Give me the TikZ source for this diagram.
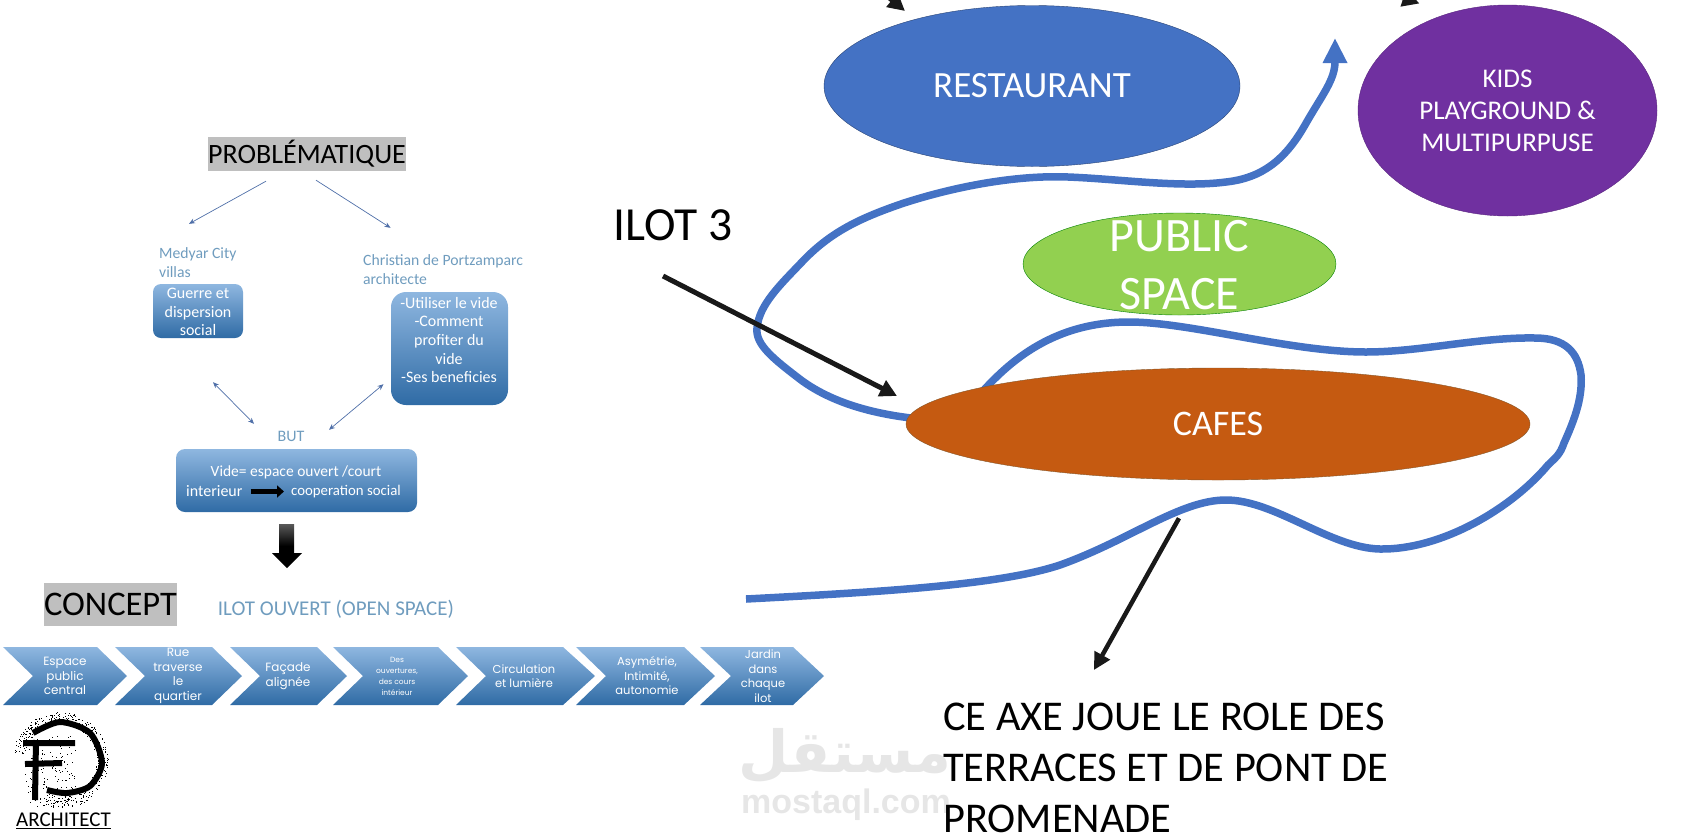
\documentclass[tikz,border=0pt]{standalone}
\usepackage{fontspec}
\setmainfont{Carlito}
\newfontfamily\chevfont{Poppins}
\newfontfamily\markfont{Liberation Sans}
\newfontfamily\arabicfont[Script=Arabic]{DejaVu Sans}
\TeXXeTstate=1
\usetikzlibrary{shapes.geometric,arrows.meta}

\definecolor{boxtop}{HTML}{8FB7E0}
\definecolor{boxbottom}{HTML}{2F6BA5}
\definecolor{softblue}{HTML}{6F9CBE}
\definecolor{thinblue}{HTML}{4F6FA8}
\definecolor{walkblue}{HTML}{4472C4}
\definecolor{labelgray}{HTML}{BFBFBF}
\definecolor{markgray}{HTML}{E6E6E6}
\definecolor{kidspurple}{HTML}{7030A0}
\definecolor{publicgreen}{HTML}{92D050}
\definecolor{cafeorange}{HTML}{C55A11}

\tikzset{
  px/.style={x=1pt,y=-1pt},
  graybox/.style={fill=labelgray,inner sep=0pt,text=black},
  softtext/.style={text=softblue,align=left,inner sep=0pt,anchor=north west,font=\fontsize{15.7}{19}\selectfont},
  bluebox/.style={top color=boxtop,bottom color=boxbottom,text=white,align=center,inner sep=0pt,font=\fontsize{16}{18.6}\selectfont},
  thinarrow/.style={thinblue,line width=0.7pt,-{Stealth[length=6pt,width=5pt]}},
  bothways/.style={thinblue,line width=0.7pt,{Stealth[length=6pt,width=5pt]}-{Stealth[length=6pt,width=5pt]}},
  bigarrow/.style={black!90,-{Triangle[length=17pt,width=17pt]}},
  walk/.style={walkblue,line width=7.5pt},
  place/.style={ellipse,text=white,align=center,inner sep=0pt},
}

\begin{document}
\begin{tikzpicture}[px]
  \useasboundingbox (0,0) rectangle (1693,836);

  % watermark
  \node[text=markgray,inner sep=0pt,font=\arabicfont\bfseries\fontsize{58}{58}\selectfont] (markar) at (845,756) {\beginR مستقل\endR};
  \node[text=markgray,inner sep=0pt,font=\markfont\bfseries\fontsize{34}{34}\selectfont] (markurl) at (846,805) {mostaql.com};

  % left column
  \node[graybox,minimum width=198pt,minimum height=34pt,font=\fontsize{28}{28}\selectfont] (problem) at (307,154) {PROBLÉMATIQUE};

  \node[softtext] (medyar) at (159,247) {Medyar City\\villas};
  \node[softtext] (christian) at (363,254) {Christian de Portzamparc\\architecte};

  \node[bluebox,rounded corners=8pt,minimum width=90pt,minimum height=54pt] (guerre) at (198,311) {};
  \node[text=white,align=center,inner sep=0pt,font=\fontsize{16}{18.6}\selectfont] (guerretext) at (198,312) {Guerre et\\dispersion\\social};
  \node[bluebox,rounded corners=15pt,minimum width=117pt,minimum height=113pt] (utiliser) at (449.5,348.5) {};
  \node[text=white,align=center,inner sep=0pt,font=\fontsize{16}{18.6}\selectfont] (utilisertext) at (449,340) {-Utiliser le vide\\-Comment\\profiter du\\vide\\-Ses beneficies};

  \node[text=softblue,inner sep=0pt,font=\fontsize{16}{16}\selectfont] (butlabel) at (291,436) {BUT};

  \node[bluebox,rounded corners=9pt,minimum width=241pt,minimum height=63pt] (vide) at (296.5,480.5) {};
  \node[text=white,inner sep=0pt,font=\fontsize{15.5}{16}\selectfont] (videtop) at (296,472) {Vide= espace ouvert /court};
  \node[text=white,inner sep=0pt,anchor=west,font=\fontsize{16}{16}\selectfont] (interieur) at (186,491.5) {interieur};
  \node[text=white,inner sep=0pt,anchor=west,font=\fontsize{14.8}{16}\selectfont] (cooperation) at (291,491.5) {cooperation social};

  \draw[black,line width=5pt,-{Triangle[length=7pt,width=12pt]},shorten <=8pt,shorten >=7pt] (interieur.east) -- (cooperation.west);

  \draw[thinarrow] ([shift={(-41,10)}]problem.south) -- ([shift={(-9,-60)}]guerre.north);
  \draw[thinarrow] ([shift={(9,9)}]problem.south) -- ([shift={(-59,-64)}]utiliser.north);
  \draw[bothways] ([shift={(15,44)}]guerre.south) -- ([shift={(-42.5,-25)}]vide.north);
  \draw[bothways] ([shift={(-66,-21)}]utiliser.south) -- ([shift={(32.5,-19)}]vide.north);

  % block arrow
  \shade[top color=black!65,bottom color=black,middle color=black] (279,524) -- (294,524) -- (294,553) -- (302,553) -- (287,568) -- (272,553) -- (279,553) -- cycle;

  \node[graybox,minimum width=133pt,minimum height=43pt,font=\fontsize{34.5}{34.5}\selectfont] (concept) at (110.5,604.5) {CONCEPT};
  \node[text=softblue,inner sep=0pt,font=\fontsize{21}{21}\selectfont] (ouvert) at (336,609) {ILOT OUVERT (OPEN SPACE)};

  % chevrons
  \foreach \xa/\xn/\xb/\xt/\xc/\fs/\ls/\chevname/\chevtext in {
      3/33/97/127/65/12/14.5/espace/{Espace\\public\\central},
      115/145/212/242/178/12/14.5/rue/{Rue\\traverse\\le\\quartier},
      230/260/317/347/288/12/14.5/facade/{Façade\\alignée},
      333/363/438/468/397/7.5/11/ouvertures/{Des\\ouvertures,\\des cours\\intérieur},
      456/486/563/595/524/11.5/14.5/circulation/{Circulation\\et lumière},
      576/606/684/715/647/11.5/14.5/asymetrie/{Asymétrie,\\Intimité,\\autonomie},
      700/731/793/824/763/11.5/14.5/jardin/{Jardin\\dans\\chaque\\ilot}}
  {
    \shade[top color=boxtop,bottom color=boxbottom] (\xa,647) -- (\xb,647) -- (\xt,676) -- (\xb,705) -- (\xa,705) -- (\xn,676) -- cycle;
    \node[text=white,align=center,inner sep=0pt,font=\chevfont\fontsize{\fs}{\ls}\selectfont] (\chevname) at (\xc,676) {\chevtext};
  }

  % logo
  \pgfmathsetseed{7}
  \foreach \i in {1,...,420}
  {
    \pgfmathsetmacro\ang{rnd*280-170}
    \pgfmathsetmacro\rad{36+rnd*12}
    \fill[black] ({60+\rad*cos(\ang)},{760+\rad*sin(\ang)}) rectangle ++(0.9,0.9);
  }
  \foreach \i in {1,...,160}
    \fill[black] ({25+rnd*50},{736+rnd*70}) rectangle ++(0.9,0.9);
  \draw[black,line width=6pt] plot[smooth] coordinates {(33,733) (60,722) (90,733) (102,763) (90,786) (67,793) (47,790)};
  \draw[black,line width=6pt] (23,743) -- (75,743) (36,740) -- (35,800) (25,764) -- (62,763);
  \node[inner sep=0pt,font=\fontsize{21}{21}\selectfont] (architect) at (63.5,820) {ARCHITECT};
  \draw[black,line width=0.9pt] (16,828) -- (111,828);

  % walking axis
  \coordinate (walkstart) at (920,419);
  \coordinate (walkend) at (1335,38);
  \coordinate (loopstart) at (975,400);
  \coordinate (loopend) at (746,599);
  \draw[walk,-{Triangle[length=25pt,width=23pt]}] (walkstart) .. controls (880,415) and (835,405) .. (801,380)
    .. controls (775,360) and (755,345) .. (757,328)
    .. controls (759,305) and (780,285) .. (801,263)
    .. controls (830,232) and (860,218) .. (904,203)
    .. controls (960,185) and (1020,175) .. (1068,177)
    .. controls (1120,179) and (1180,188) .. (1226,182)
    .. controls (1262,178) and (1285,160) .. (1305,125)
    .. controls (1322,95) and (1335,80) .. (walkend);
  \draw[walk] (loopstart) .. controls (1005,365) and (1050,322) .. (1129,322)
    .. controls (1190,322) and (1290,352) .. (1366,352)
    .. controls (1420,352) and (1480,337) .. (1535,338)
    .. controls (1565,338) and (1578,352) .. (1581,375)
    .. controls (1583,400) and (1572,425) .. (1564,443)
    .. controls (1560,455) and (1555,458) .. (1548,465)
    .. controls (1510,510) and (1440,550) .. (1380,549)
    .. controls (1330,548) and (1275,500) .. (1226,500)
    .. controls (1180,500) and (1130,540) .. (1060,565)
    .. controls (1000,585) and (880,592) .. (loopend);

  % places
  \node[place,draw=walkblue!60!black,fill=walkblue,minimum width=416pt,minimum height=161pt,font=\fontsize{37}{37}\selectfont] (restaurant) at (1032,86) {RESTAURANT};
  \node[place,draw=kidspurple!80!black,fill=kidspurple,minimum width=299pt,minimum height=211pt,font=\fontsize{27}{32}\selectfont] (kids) at (1507.5,110.5) {KIDS\\PLAYGROUND \&\\MULTIPURPUSE};
  \node[place,draw=green!50!black,fill=publicgreen,minimum width=313pt,minimum height=102pt] (public) at (1179.5,264) {};
  \node[text=white,align=center,inner sep=0pt,font=\fontsize{48}{58}\selectfont] (publictext) at (1179.5,265) {PUBLIC\\SPACE};
  \node[place,draw=brown!70!black,fill=cafeorange,minimum width=624pt,minimum height=112pt,font=\fontsize{36}{36}\selectfont] (cafes) at (1218,424) {CAFES};

  % labels and arrows
  \node[inner sep=0pt,font=\fontsize{47.5}{47.5}\selectfont] (ilot) at (673,225) {ILOT 3};
  \node[inner sep=0pt,anchor=north west,align=left,font=\fontsize{42.4}{51}\selectfont] (axe) at (943,703) {CE AXE JOUE LE ROLE DES\\TERRACES ET DE PONT DE\\PROMENADE};

  \draw[bigarrow,line width=5pt] ([shift={(-10,51)}]ilot.center) -- ([shift={(-321,-28)}]cafes.center);
  \draw[bigarrow,line width=4.5pt] ([shift={(-39,38)}]cafes.south) -- ([shift={(151,-33)}]axe.north west);
  \draw[bigarrow,line width=5pt] ([shift={(-152,-96)}]restaurant.center) -- ([shift={(-127,-75)}]restaurant.center);
  \draw[bigarrow,line width=5pt] ([shift={(-120,-118)}]kids.center) -- ([shift={(-88,-107)}]kids.center);
\end{tikzpicture}
\end{document}
